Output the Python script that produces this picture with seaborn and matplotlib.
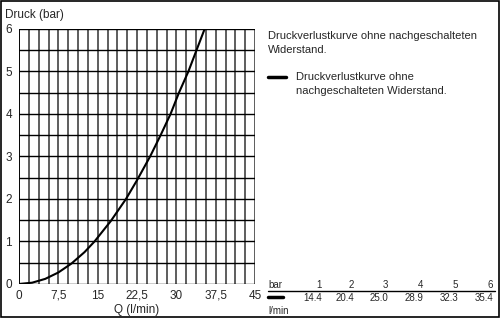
import matplotlib
matplotlib.use("Agg")
import matplotlib.pyplot as plt
import seaborn as sns
import pandas as pd
import numpy as np
from matplotlib.patches import Rectangle
from matplotlib.lines import Line2D

# data
flow = [0, 2.5, 5, 7.5, 10, 12.5, 14.4, 17.5, 20.4, 22.5, 25.0, 27.0, 28.9, 30.5, 32.3, 34.0, 35.4]
pressure = [0, 0.03, 0.12, 0.27, 0.48, 0.75, 1.0, 1.48, 2.0, 2.44, 3.0, 3.5, 4.0, 4.5, 5.0, 5.55, 6.0]
table_bar = ["1", "2", "3", "4", "5", "6"]
table_flow = ["14.4", "20.4", "25.0", "28.9", "32.3", "35.4"]
x_ticks = [0, 7.5, 15, 22.5, 30, 37.5, 45]
x_tick_labels = ["0", "7,5", "15", "22,5", "30", "37,5", "45"]
y_ticks = [0, 1, 2, 3, 4, 5, 6]
title_text = "Druckverlustkurve ohne nachgeschalteten\nWiderstand."
legend_text = "Druckverlustkurve ohne\nnachgeschalteten Widerstand."

sns.set_style("white")
plt.rcParams['font.family'] = ['Liberation Sans', 'DejaVu Sans']

df = pd.DataFrame({"Q": flow, "P": pressure})

fig = plt.figure(figsize=(5.0, 3.18), dpi=100)
fig.patch.set_facecolor("white")
ax = fig.add_axes([0.038, 0.107, 0.472, 0.802])

# grid
for xv in np.arange(0, 45.01, 1.875):
    ax.axvline(xv, color="#505050", lw=1.3, zorder=1)
for yv in np.arange(0, 6.01, 0.5):
    ax.axhline(yv, color="black", lw=1.0, zorder=2)
ax.axvline(0, color="black", lw=1.3, zorder=2)

sns.lineplot(data=df, x="Q", y="P", ax=ax, color="black", lw=1.5, zorder=3)

ax.set_xlim(0, 45)
ax.set_ylim(0, 6)
ax.set_xticks(x_ticks)
ax.set_xticklabels(x_tick_labels, fontsize=8.5)
ax.set_yticks(y_ticks)
ax.set_yticklabels([str(v) for v in y_ticks], fontsize=8.5)
ax.tick_params(axis="x", length=0, pad=4)
ax.tick_params(axis="y", length=0, pad=5)
ax.set_xlabel("Q (l/min)", fontsize=8.5, labelpad=2)
ax.set_ylabel("")
for s in ax.spines.values():
    s.set_visible(False)

fig.text(5/500, 1 - 15/318, "Druck (bar)", fontsize=8.5, ha="left", va="center")

# right side texts
fig.text(268/500, 1 - 43/318, title_text, fontsize=8, ha="left", va="center", linespacing=1.5)
fig.add_artist(Line2D([268/500, 286/500], [1 - 77/318, 1 - 77/318], color="black", lw=2.5))
fig.text(296/500, 1 - 84.5/318, legend_text, fontsize=8, ha="left", va="center", linespacing=1.5)

# table
fig.text(268/500, 1 - 287.5/318, "bar", fontsize=7, ha="left", va="baseline")
x_right = [322, 354, 388, 423, 458, 493]
for xr, b, f in zip(x_right, table_bar, table_flow):
    fig.text(xr/500, 1 - 287.5/318, b, fontsize=7, ha="right", va="baseline")
    fig.text(xr/500, 1 - 301/318, f, fontsize=7, ha="right", va="baseline")
fig.add_artist(Line2D([268/500, 495/500], [1 - 290.5/318, 1 - 290.5/318], color="black", lw=1))
fig.add_artist(Line2D([268/500, 283/500], [1 - 296.5/318, 1 - 296.5/318], color="black", lw=2.5))
fig.text(268/500, 1 - 313.5/318, "l/min", fontsize=7, ha="left", va="baseline")

# outer border
fig.add_artist(Rectangle((0.001, 0.002), 0.997, 0.996, transform=fig.transFigure,
                         fill=False, edgecolor="black", lw=1.2))

fig.savefig("out.png", dpi=100)
